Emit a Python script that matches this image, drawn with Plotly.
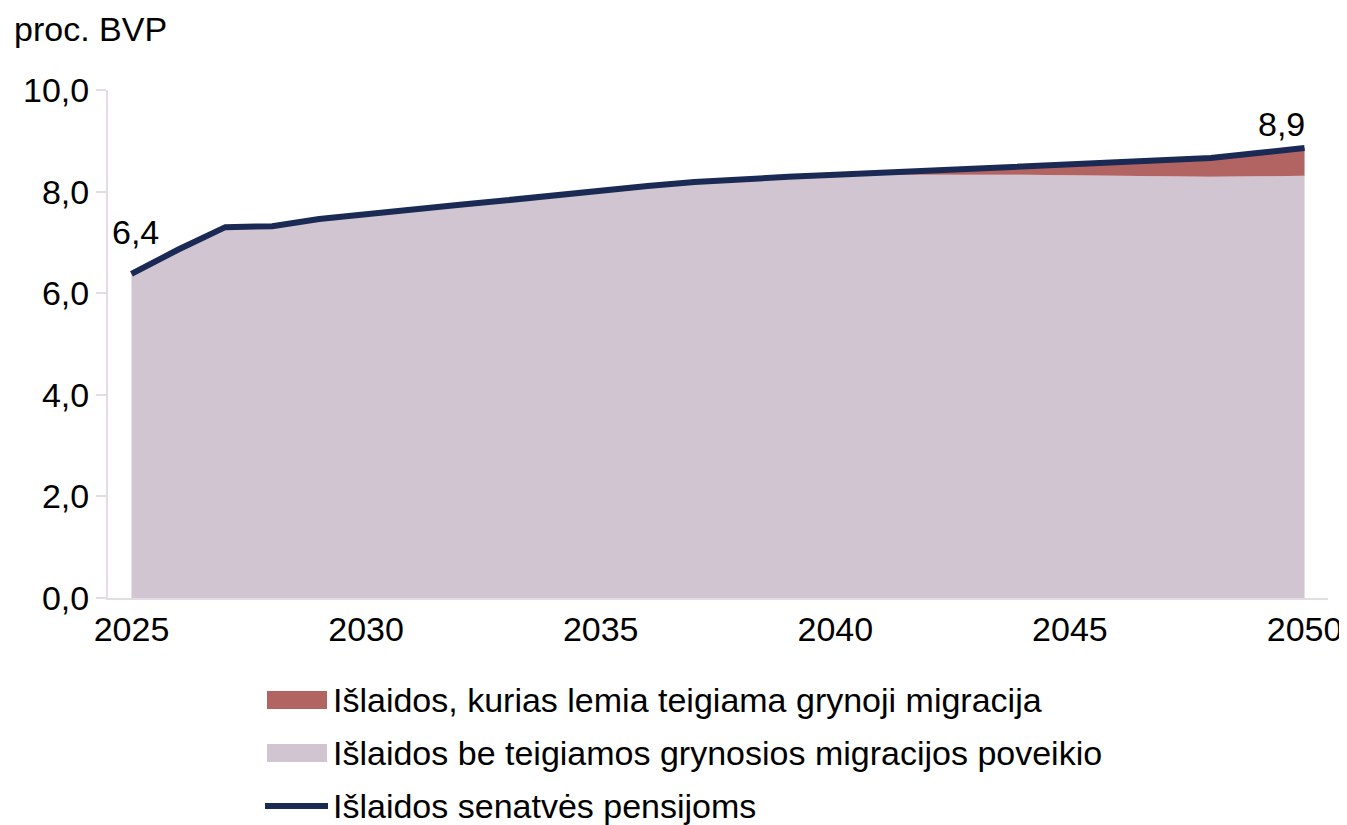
import numpy as np
import plotly.graph_objects as go

years = list(range(2025, 2051))

# total old-age pension spending, % of GDP
total = [6.38, 6.86, 7.30, 7.32, 7.46, 7.56, 7.66, 7.74, 7.83, 7.93,
         8.03, 8.11, 8.19, 8.25, 8.29, 8.33, 8.37, 8.41, 8.44, 8.48,
         8.52, 8.56, 8.60, 8.66, 8.76, 8.86]

# spending without positive net migration effect
base = [6.38, 6.86, 7.30, 7.32, 7.46, 7.56, 7.66, 7.74, 7.83, 7.93,
        8.03, 8.11, 8.19, 8.25, 8.29, 8.32, 8.33, 8.33, 8.33, 8.33,
        8.32, 8.31, 8.30, 8.29, 8.30, 8.31]

migration = list(np.round(np.array(total) - np.array(base), 3))

names = [
    "Išlaidos, kurias lemia teigiama grynoji migracija",
    "Išlaidos be teigiamos grynosios migracijos poveikio",
    "Išlaidos senatvės pensijoms",
]
colors = ["#b26463", "#d0c5d0", "#1b2a55"]

font = "Liberation Sans, Arial, sans-serif"
fs = 34
axis_col = "#e4dce4"

# the page body adds 8px around the figure
OFF = 8
W, H = 1347 - OFF, 825 - OFF
L, R, T, B = 100, 19, 82, 227


def px(x):
    return (x - OFF - L) / (W - L - R)


def py(y):
    return (H - B - (y - OFF)) / (H - T - B)


fig = go.Figure()
fig.add_trace(go.Scatter(
    x=years, y=base, name=names[1], stackgroup="a", mode="none",
    fillcolor=colors[1], hoverinfo="skip",
))
fig.add_trace(go.Scatter(
    x=years, y=migration, name=names[0], stackgroup="a", mode="none",
    fillcolor=colors[0], hoverinfo="skip",
))
fig.add_trace(go.Scatter(
    x=years, y=total, name=names[2], mode="lines",
    line=dict(color=colors[2], width=6), hoverinfo="skip",
))

fig.add_annotation(x=years[0], y=total[0], text="6,4", showarrow=False,
                   yshift=42, xshift=4, font=dict(size=fs, color="black"))
fig.add_annotation(x=years[-1], y=total[-1], text="8,9", showarrow=False,
                   yshift=24, xshift=-23, font=dict(size=fs, color="black"))
fig.add_annotation(x=px(12), y=py(OFF), xref="paper", yref="paper",
                   text="proc. BVP", showarrow=False, xanchor="left", yanchor="top",
                   font=dict(size=fs, color="black"))

# legend drawn by hand (swatch sizes as in the original)
rows = [700, 753, 806]
for i, (name, col, yc) in enumerate(zip(names, colors, rows)):
    if i < 2:
        fig.add_shape(type="rect", xref="paper", yref="paper",
                      x0=px(267), x1=px(327), y0=py(yc + 9), y1=py(yc - 9),
                      fillcolor=col, line=dict(width=0))
    else:
        fig.add_shape(type="line", xref="paper", yref="paper",
                      x0=px(265), x1=px(328), y0=py(yc), y1=py(yc),
                      line=dict(color=col, width=6))
    fig.add_annotation(x=px(331), y=py(yc), xref="paper", yref="paper",
                       text=name, showarrow=False, xanchor="left", yanchor="middle",
                       font=dict(size=fs, color="black"))

fig.update_layout(
    width=W, height=H,
    margin=dict(l=L, r=R, t=T, b=B),
    paper_bgcolor="white", plot_bgcolor="white",
    font=dict(family=font, size=fs, color="black"),
    showlegend=False,
    xaxis=dict(range=[2024.5, 2050.5], tickvals=[2025, 2030, 2035, 2040, 2045, 2050],
               showline=True, linecolor=axis_col, linewidth=2, showgrid=False,
               ticks="", zeroline=False, tickfont=dict(size=fs), automargin=False),
    yaxis=dict(range=[0, 10], dtick=2, tickformat=".1f", showline=True,
               linecolor=axis_col, linewidth=2, showgrid=False, ticks="outside",
               ticklen=10, tickcolor=axis_col, tickwidth=2, zeroline=False,
               tickfont=dict(size=fs), automargin=False),
    separators=", ",
)

fig.write_html("out.html")
